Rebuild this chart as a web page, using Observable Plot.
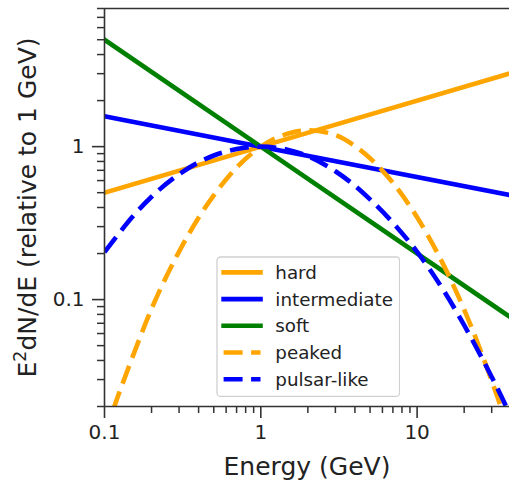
<!DOCTYPE html>
<html>
<head>
<meta charset="utf-8">
<script src="https://cdn.jsdelivr.net/npm/d3@7"></script>
<script src="https://cdn.jsdelivr.net/npm/@observablehq/plot@0.6"></script>
<style>
  html, body { margin: 0; padding: 0; background: #fff; }
  #wrap { position: relative; width: 509px; height: 481px; overflow: hidden; font-family: "DejaVu Sans", sans-serif; }
  #legend { position: absolute; }
</style>
</head>
<body>
<div id="wrap"></div>
<script>
// ---- data ----
const seriesNames = ["hard", "intermediate", "soft", "peaked", "pulsar-like"];

const energyPowerLaw = [0.1, 1, 40];
const hard         = [0.5, 1, 3.03];
const intermediate = [1.58, 1, 0.48];
const soft         = [5.0, 1, 0.076];

const energyCurve = [0.1, 0.12, 0.15, 0.2, 0.3, 0.4, 0.5, 0.7, 1, 1.5, 2, 3, 4, 5, 7, 10, 15, 20, 30, 35, 40];
const peaked     = [0.0129, 0.0223, 0.0413, 0.087, 0.206, 0.343, 0.48, 0.73, 1, 1.22, 1.28, 1.19, 1.01, 0.84, 0.58, 0.345, 0.163, 0.086, 0.0295, 0.0188, 0.0124];
const pulsarLike = [0.204, 0.26, 0.345, 0.47, 0.66, 0.79, 0.875, 0.965, 1, 0.952, 0.866, 0.69, 0.555, 0.452, 0.318, 0.205, 0.112, 0.068, 0.0312, 0.0227, 0.0169];

const xMajorTicks = [0.1, 1, 10];
const xTickLabels = ["0.1", "1", "10"];
const xMinorTicks = [0.2, 0.3, 0.4, 0.5, 0.6, 0.7, 0.8, 0.9, 2, 3, 4, 5, 6, 7, 8, 9, 20, 30];
const yMajorTicks = [0.1, 1];
const yTickLabels = ["0.1", "1"];
const yMinorTicks = [0.02, 0.03, 0.04, 0.05, 0.06, 0.07, 0.08, 0.09, 0.2, 0.3, 0.4, 0.5, 0.6, 0.7, 0.8, 0.9, 2, 3, 4, 5, 6, 7, 8];

const xDomain = [0.1, 39];
const yDomain = [0.02, 8];
const xLabel = "Energy (GeV)";
const yLabelParts = ["E", "2", "dN/dE (relative to 1 GeV)"]; // base, superscript, rest

// ---- styles ----
const colors = {hard: "orange", intermediate: "blue", soft: "green", peaked: "orange", "pulsar-like": "blue"};
const dashed = {peaked: true, "pulsar-like": true};
const LW = 4.6;
const DASH = "19,8.5";
const FONT = "DejaVu Sans";

// ---- build tidy rows ----
const rows = [];
energyPowerLaw.forEach((e, i) => {
  rows.push({series: "hard", E: e, v: hard[i]});
  rows.push({series: "intermediate", E: e, v: intermediate[i]});
  rows.push({series: "soft", E: e, v: soft[i]});
});
energyCurve.forEach((e, i) => {
  rows.push({series: "peaked", E: e, v: peaked[i]});
  rows.push({series: "pulsar-like", E: e, v: pulsarLike[i]});
});

const W = 509, H = 481;
const lineMark = (name) => Plot.line(rows.filter(d => d.series === name), {
  x: "E", y: "v", stroke: colors[name], strokeWidth: LW,
  strokeDasharray: dashed[name] ? DASH : null,
  strokeLinecap: dashed[name] ? "butt" : "square",
  curve: "monotone-x", clip: true
});

const tickColor = "#333";
const yLabelPlain = yLabelParts.join("");
const chart = Plot.plot({
  width: W, height: H,
  marginLeft: 104, marginRight: 0, marginTop: 8, marginBottom: 75,
  style: {fontFamily: FONT, background: "white", color: "#222"},
  x: {type: "log", domain: xDomain},
  y: {type: "log", domain: yDomain},
  marks: [
    lineMark("hard"),
    lineMark("intermediate"),
    lineMark("soft"),
    lineMark("peaked"),
    lineMark("pulsar-like"),
    // minor ticks
    Plot.axisX({ticks: xMinorTicks, tickSize: 7, tickFormat: () => "", stroke: tickColor, strokeWidth: 1.5, label: null}),
    Plot.axisY({ticks: yMinorTicks, tickSize: 7, tickFormat: () => "", stroke: tickColor, strokeWidth: 1.5, label: null}),
    // major ticks
    Plot.axisX({ticks: xMajorTicks, tickSize: 12, tickPadding: 6, fontSize: 20,
      tickFormat: (d) => xTickLabels[xMajorTicks.indexOf(d)], stroke: tickColor, strokeWidth: 1.6, label: null}),
    Plot.axisY({ticks: yMajorTicks, tickSize: 12, tickPadding: 8, fontSize: 20,
      tickFormat: (d) => yTickLabels[yMajorTicks.indexOf(d)], stroke: tickColor, strokeWidth: 1.6, label: null}),
    // spines
    Plot.ruleX([xDomain[0]], {stroke: tickColor, strokeWidth: 1.6}),
    Plot.ruleY([yDomain[0]], {stroke: tickColor, strokeWidth: 1.6}),
    Plot.ruleY([yDomain[1]], {stroke: tickColor, strokeWidth: 1.6}),
    // axis labels
    Plot.text([xLabel], {frameAnchor: "bottom", lineAnchor: "middle", textAnchor: "middle", dy: 60, fontSize: 25, fill: "#222", text: d => d}),
    Plot.text([yLabelPlain], {frameAnchor: "left", lineAnchor: "middle", textAnchor: "middle", dx: -77, rotate: -90, fontSize: 25, fill: "#222", text: d => d, className: "ylab"})
  ]
});

const wrap = document.getElementById("wrap");
wrap.appendChild(chart);

// superscript in the y label (real text, split into tspans)
chart.querySelectorAll("text").forEach(t => {
  if (t.textContent === yLabelPlain) {
    const ns0 = "http://www.w3.org/2000/svg";
    const dyAttr = t.getAttribute("dy");
    t.textContent = "";
    const a = document.createElementNS(ns0, "tspan"); a.textContent = yLabelParts[0];
    const b = document.createElementNS(ns0, "tspan"); b.textContent = yLabelParts[1];
    b.setAttribute("font-size", "70%"); b.setAttribute("dy", "-0.55em");
    const c = document.createElementNS(ns0, "tspan"); c.textContent = yLabelParts[2];
    c.setAttribute("dy", "0.385em");
    t.appendChild(a); t.appendChild(b); t.appendChild(c);
    if (dyAttr) t.setAttribute("dy", dyAttr);
  }
});

// ---- legend ----
const L = {left: 216.7, top: 257.3, width: 182.6, height: 139.4, rowY0: 15.4, rowStep: 26.7, x0: 6.6, x1: 43.5, tx: 58.3};
const ns = "http://www.w3.org/2000/svg";
const lg = document.createElementNS(ns, "svg");
lg.setAttribute("id", "legend");
lg.setAttribute("width", L.width + 2);
lg.setAttribute("height", L.height + 2);
lg.style.left = (L.left - 1) + "px";
lg.style.top = (L.top - 1) + "px";
const box = document.createElementNS(ns, "rect");
box.setAttribute("x", 1); box.setAttribute("y", 1);
box.setAttribute("width", L.width); box.setAttribute("height", L.height);
box.setAttribute("rx", 3.5);
box.setAttribute("fill", "rgba(255,255,255,0.8)");
box.setAttribute("stroke", "#d0d0d0");
box.setAttribute("stroke-width", 1.3);
lg.appendChild(box);
seriesNames.forEach((name, i) => {
  const y = 1 + L.rowY0 + i * L.rowStep;
  const ln = document.createElementNS(ns, "line");
  ln.setAttribute("x1", 1 + L.x0); ln.setAttribute("x2", 1 + L.x1);
  ln.setAttribute("y1", y); ln.setAttribute("y2", y);
  ln.setAttribute("stroke", colors[name]);
  ln.setAttribute("stroke-width", LW);
  if (dashed[name]) { ln.setAttribute("stroke-dasharray", DASH); }
  else { ln.setAttribute("stroke-linecap", "square"); }
  lg.appendChild(ln);
  const tx = document.createElementNS(ns, "text");
  tx.setAttribute("x", 1 + L.tx); tx.setAttribute("y", y);
  tx.setAttribute("dy", "0.35em");
  tx.setAttribute("font-family", FONT);
  tx.setAttribute("font-size", 18.3);
  tx.setAttribute("fill", "#222");
  tx.textContent = name;
  lg.appendChild(tx);
});
wrap.appendChild(lg);
</script>
</body>
</html>
